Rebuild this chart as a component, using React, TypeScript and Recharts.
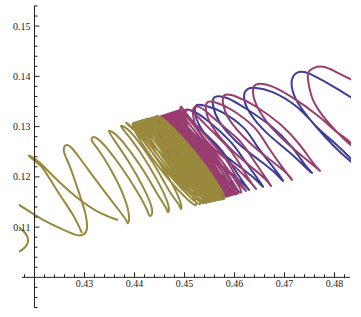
import React from 'react'
import { LineChart, Line, XAxis, YAxis, ReferenceLine } from 'recharts'

type Pt = [number, number]

// three trajectories, points, in plot order
const bluePath: Pt[] = [
  [0.4915, 0.1305], [0.4835, 0.1357], [0.4785, 0.1387], [0.4751, 0.1405], [0.4731, 0.1409],
  [0.4717, 0.1399], [0.4715, 0.1377], [0.4727, 0.1347], [0.4757, 0.1307], [0.4797, 0.1263],
  [0.4833, 0.123], [0.4847, 0.122], [0.4831, 0.1238], [0.4803, 0.1265], [0.4765, 0.1299],
  [0.4725, 0.1339], [0.4675, 0.1369], [0.4643, 0.1377], [0.4627, 0.1375], [0.4619, 0.1359],
  [0.4631, 0.1327], [0.4665, 0.1287], [0.4711, 0.1248], [0.4743, 0.1218], [0.4755, 0.1208],
  [0.4741, 0.1224], [0.4715, 0.1259], [0.4673, 0.1301], [0.4621, 0.1337], [0.4585, 0.1357],
  [0.4561, 0.1359], [0.4557, 0.1343], [0.4569, 0.1311], [0.4605, 0.1269], [0.4651, 0.1232],
  [0.4681, 0.1208], [0.4697, 0.1192], [0.4683, 0.1212], [0.4645, 0.1261], [0.4619, 0.1297],
  [0.4575, 0.1329], [0.4543, 0.1341], [0.4525, 0.1343], [0.4521, 0.1327], [0.4533, 0.1297],
  [0.4567, 0.1255], [0.4613, 0.1218], [0.4643, 0.1194], [0.4657, 0.118], [0.4645, 0.1198],
  [0.4615, 0.124], [0.4589, 0.1273], [0.4547, 0.1311], [0.4517, 0.1331], [0.4501, 0.1333],
  [0.4497, 0.1319], [0.4507, 0.1289], [0.4541, 0.125], [0.4585, 0.1214], [0.4615, 0.1188],
  [0.4629, 0.1174], [0.4617, 0.119], [0.4589, 0.1232], [0.4565, 0.1263], [0.4525, 0.1301],
  [0.4501, 0.1323], [0.4487, 0.1327], [0.4483, 0.1313], [0.4493, 0.1285], [0.4525, 0.1246],
  [0.4567, 0.121], [0.4597, 0.1182], [0.4609, 0.117], [0.4597, 0.1186], [0.4571, 0.1226],
  [0.4547, 0.1257], [0.4509, 0.1295], [0.4489, 0.1317], [0.4475, 0.1323], [0.4471, 0.1309],
  [0.4481, 0.1281], [0.4513, 0.1242], [0.4555, 0.1204], [0.4585, 0.1178], [0.4597, 0.1166],
  [0.4585, 0.1182], [0.4559, 0.1222], [0.4535, 0.1254], [0.4499, 0.1291], [0.4479, 0.1313],
  [0.4467, 0.1319], [0.4463, 0.1305], [0.4473, 0.1277], [0.4505, 0.1238], [0.4547, 0.12],
  [0.4577, 0.1174], [0.4589, 0.1162],
]

const purplePath: Pt[] = [
  [0.4921, 0.1353], [0.4835, 0.1393], [0.4799, 0.1411], [0.4777, 0.1419], [0.4759, 0.1417],
  [0.4747, 0.1405], [0.4749, 0.1381], [0.4757, 0.1353], [0.4777, 0.1321], [0.4809, 0.1285],
  [0.4833, 0.1263], [0.4845, 0.1255], [0.4829, 0.1271], [0.4805, 0.1289], [0.4765, 0.1323],
  [0.4717, 0.1357], [0.4677, 0.1379], [0.4647, 0.1385], [0.4637, 0.1373], [0.4643, 0.1345],
  [0.4665, 0.1309], [0.4699, 0.1273], [0.4737, 0.124], [0.4759, 0.1222], [0.4771, 0.1212],
  [0.4757, 0.1228], [0.4731, 0.1263], [0.4691, 0.1305], [0.4641, 0.1341], [0.4605, 0.1359],
  [0.4581, 0.1363], [0.4577, 0.1347], [0.4589, 0.1315], [0.4625, 0.1273], [0.4671, 0.1234],
  [0.4701, 0.121], [0.4715, 0.1194], [0.4701, 0.1212], [0.4665, 0.1263], [0.4639, 0.1299],
  [0.4595, 0.1333], [0.4565, 0.1347], [0.4547, 0.1349], [0.4543, 0.1333], [0.4555, 0.1301],
  [0.4589, 0.1259], [0.4633, 0.122], [0.4661, 0.1196], [0.4673, 0.1182], [0.4661, 0.12],
  [0.4631, 0.1244], [0.4607, 0.1275], [0.4565, 0.1311], [0.4537, 0.1335], [0.4521, 0.1339],
  [0.4517, 0.1325], [0.4527, 0.1293], [0.4561, 0.1254], [0.4603, 0.1218], [0.4631, 0.119],
  [0.4643, 0.1176], [0.4631, 0.1192], [0.4605, 0.1234], [0.4581, 0.1265], [0.4541, 0.1305],
  [0.4517, 0.1329], [0.4505, 0.1333], [0.4501, 0.1319], [0.4511, 0.1289], [0.4543, 0.125],
  [0.4585, 0.1212], [0.4611, 0.1184], [0.4623, 0.1172], [0.4611, 0.1188], [0.4587, 0.1228],
  [0.4563, 0.1259], [0.4523, 0.1303], [0.4503, 0.1327], [0.4493, 0.1333],
  // dense band
  [0.4541, 0.1241], [0.4613, 0.1169], [0.4556, 0.1256], [0.4487, 0.1332], [0.4535, 0.1239],
  [0.4607, 0.1167], [0.455, 0.1254], [0.4481, 0.133], [0.4529, 0.1238], [0.4601, 0.1165],
  [0.4544, 0.1252], [0.4475, 0.1328], [0.4523, 0.1236], [0.4595, 0.1164], [0.4538, 0.1251],
  [0.4469, 0.1326], [0.4517, 0.1234], [0.4589, 0.1162], [0.4532, 0.1249], [0.4463, 0.1324],
  [0.4511, 0.1232], [0.4583, 0.1161], [0.4526, 0.1247], [0.4457, 0.1322], [0.4505, 0.123],
  [0.4577, 0.1159], [0.452, 0.1245], [0.4451, 0.132], [0.4499, 0.1229], [0.4571, 0.1157],
  [0.4514, 0.1244], [0.4445, 0.1318], [0.4493, 0.1227], [0.4565, 0.1156], [0.4508, 0.1242],
  [0.4439, 0.1316], [0.4487, 0.1225], [0.4559, 0.1154], [0.4502, 0.124], [0.4433, 0.1314],
  [0.4481, 0.1223], [0.4553, 0.1153], [0.4501, 0.124], [0.4436, 0.1315], [0.4484, 0.1224],
  [0.4556, 0.1153], [0.4505, 0.1241], [0.4442, 0.1317], [0.449, 0.1226], [0.4562, 0.1155],
  [0.4511, 0.1243], [0.4448, 0.1319], [0.4496, 0.1228], [0.4568, 0.1157], [0.4517, 0.1245],
  [0.4454, 0.1321], [0.4502, 0.123], [0.4574, 0.1158], [0.4523, 0.1246], [0.446, 0.1323],
  [0.4508, 0.1231], [0.458, 0.116], [0.4529, 0.1248], [0.4466, 0.1325], [0.4514, 0.1233],
  [0.4586, 0.1161], [0.4535, 0.125], [0.4472, 0.1327], [0.452, 0.1235], [0.4592, 0.1163],
  [0.4541, 0.1252], [0.4478, 0.1329], [0.4526, 0.1237], [0.4598, 0.1165], [0.4547, 0.1254],
  [0.4484, 0.1331], [0.4532, 0.1238], [0.4604, 0.1166], [0.4553, 0.1255], [0.449, 0.1333],
  [0.4538, 0.124], [0.461, 0.1168],
]

const oliveArc: Pt[] = [
  [0.4155, 0.111], [0.4171, 0.1098], [0.4183, 0.1086], [0.4187, 0.1072], [0.4181, 0.106],
  [0.4167, 0.105], [0.4151, 0.1044],
]

const oliveTip: Pt[] = [
  [0.4367, 0.1114], [0.4321, 0.1134], [0.4267, 0.1174], [0.4221, 0.1218], [0.4201, 0.1236],
  [0.4189, 0.1242], [0.4203, 0.123], [0.4219, 0.1214], [0.4247, 0.117], [0.4277, 0.1124],
  [0.4295, 0.1088],
]

const olivePath: Pt[] = [
  [0.4135, 0.116], [0.4169, 0.1144], [0.4211, 0.1118], [0.4255, 0.1096], [0.4285, 0.1084],
  [0.4299, 0.1086], [0.4305, 0.1098], [0.4301, 0.113], [0.4287, 0.1174], [0.4271, 0.122],
  [0.4259, 0.125], [0.4263, 0.1263], [0.4273, 0.1259], [0.4293, 0.1234], [0.4333, 0.118],
  [0.4367, 0.1136], [0.4383, 0.1114], [0.4387, 0.1108], [0.4389, 0.1122], [0.4379, 0.116],
  [0.4355, 0.121], [0.4329, 0.1252], [0.4315, 0.1271], [0.4317, 0.1279], [0.4327, 0.1275],
  [0.4343, 0.1259], [0.4373, 0.122], [0.4407, 0.1168], [0.4425, 0.1134], [0.4431, 0.1122],
  [0.4435, 0.1136], [0.4417, 0.118], [0.4387, 0.1232], [0.4361, 0.1271], [0.4349, 0.1291],
  [0.4359, 0.1287], [0.4377, 0.1269], [0.4413, 0.122], [0.4447, 0.1164], [0.4463, 0.1138],
  [0.4467, 0.113], [0.4467, 0.1146], [0.4445, 0.1194], [0.4411, 0.125], [0.4385, 0.1285],
  [0.4373, 0.1301], [0.4383, 0.1297], [0.4401, 0.1279], [0.4437, 0.1228], [0.4471, 0.117],
  [0.4489, 0.1144], [0.4493, 0.1136], [0.4491, 0.1152], [0.4467, 0.12], [0.4431, 0.1255],
  [0.4401, 0.1291], [0.4387, 0.1305],
  // dense band
  [0.4465, 0.1233], [0.4523, 0.1144], [0.445, 0.1218], [0.4397, 0.1307], [0.4474, 0.1235],
  [0.4531, 0.1146], [0.4457, 0.122], [0.4403, 0.1309], [0.448, 0.1237], [0.4537, 0.1148],
  [0.4463, 0.1222], [0.4409, 0.1311], [0.4486, 0.1238], [0.4543, 0.1148], [0.4469, 0.1223],
  [0.4415, 0.1313], [0.4492, 0.124], [0.4549, 0.115], [0.4475, 0.1224], [0.4421, 0.1314],
  [0.4498, 0.1241], [0.4555, 0.1151], [0.4481, 0.1226], [0.4427, 0.1316], [0.4504, 0.1242],
  [0.4561, 0.1152], [0.4487, 0.1227], [0.4433, 0.1317], [0.451, 0.1244], [0.4567, 0.1154],
  [0.4493, 0.1229], [0.4439, 0.1319], [0.4516, 0.1245], [0.4573, 0.1155], [0.4499, 0.123],
  [0.4445, 0.1321], [0.4522, 0.1247], [0.4579, 0.1156], [0.45, 0.123], [0.4441, 0.132],
  [0.4518, 0.1246], [0.4575, 0.1155], [0.4495, 0.1229], [0.4435, 0.1318], [0.4512, 0.1244],
  [0.4569, 0.1154], [0.4489, 0.1227], [0.4429, 0.1316], [0.4506, 0.1243], [0.4563, 0.1153],
  [0.4483, 0.1226], [0.4423, 0.1315], [0.45, 0.1242], [0.4557, 0.1152], [0.4477, 0.1225],
  [0.4417, 0.1313], [0.4494, 0.124], [0.4551, 0.115], [0.4471, 0.1223], [0.4411, 0.1311],
  [0.4488, 0.1238], [0.4545, 0.1149], [0.4465, 0.1221], [0.4405, 0.1309], [0.4482, 0.1237],
  [0.4539, 0.1148], [0.4459, 0.122], [0.4399, 0.1308], [0.4476, 0.1235], [0.4533, 0.1146],
]

const xMajorTicks = [0.43, 0.44, 0.45, 0.46, 0.47, 0.48]
const xMinorTicks = [
  0.418, 0.422, 0.424, 0.426, 0.428, 0.432, 0.434, 0.436, 0.438, 0.442, 0.444, 0.446, 0.448,
  0.452, 0.454, 0.456, 0.458, 0.462, 0.464, 0.466, 0.468, 0.472, 0.474, 0.476, 0.478, 0.482,
]
const yMajorTicks = [0.11, 0.12, 0.13, 0.14, 0.15]
const yMinorTicks = [
  0.094, 0.096, 0.098, 0.102, 0.104, 0.106, 0.108, 0.112, 0.114, 0.116, 0.118, 0.122, 0.124,
  0.126, 0.128, 0.132, 0.134, 0.136, 0.138, 0.142, 0.144, 0.146, 0.148, 0.152, 0.154,
]

const X0 = 0.42 // where the axes cross
const Y0 = 0.1

const axisColor = '#222'
const labelFont = { fill: '#222', fontSize: 10, fontFamily: '"Liberation Serif", "DejaVu Serif", serif' }

const rows = (pts: Pt[]) => pts.map(([x, y]) => ({ x, y }))

const series = [
  { name: 'a', pts: bluePath, color: '#3d3d99' },
  { name: 'b', pts: purplePath, color: '#993d71' },
  { name: 'c1', pts: oliveArc, color: '#99893d' },
  { name: 'c2', pts: oliveTip, color: '#99893d' },
  { name: 'c3', pts: olivePath, color: '#99893d' },
]

export default function App() {
  return (
    <div style={{ position: 'absolute', left: 0, top: 0, width: 361, height: 317, background: '#fff' }}>
      <LineChart width={361} height={317} margin={{ top: 6, right: 10, bottom: 9, left: 19 }}>
        <XAxis type="number" dataKey="x" domain={[0.4169, 0.4833]} allowDataOverflow hide />
        <YAxis type="number" dataKey="y" domain={[0.0939, 0.154]} allowDataOverflow hide />

        {series.map(s => (
          <Line
            key={s.name}
            data={rows(s.pts)}
            dataKey="y"
            type="natural"
            stroke={s.color}
            strokeWidth={2}
            dot={false}
            activeDot={false}
            isAnimationActive={false}
          />
        ))}

        {/* axes cross at (0.42, 0.10) */}
        <ReferenceLine
          segment={[{ x: 0.4175, y: Y0 }, { x: 0.4831, y: Y0 }]}
          stroke={axisColor}
          ifOverflow="visible"
        />
        <ReferenceLine
          segment={[{ x: X0, y: 0.0939 }, { x: X0, y: 0.1541 }]}
          stroke={axisColor}
          ifOverflow="visible"
        />

        {xMinorTicks.map(t => (
          <ReferenceLine
            key={'xm' + t}
            segment={[{ x: t, y: Y0 }, { x: t, y: Y0 + 0.0006 }]}
            stroke={axisColor}
            ifOverflow="visible"
          />
        ))}
        {xMajorTicks.map(t => (
          <ReferenceLine
            key={'xM' + t}
            segment={[{ x: t, y: Y0 }, { x: t, y: Y0 + 0.001 }]}
            stroke={axisColor}
            ifOverflow="visible"
            label={{ value: t.toFixed(2), position: 'bottom', offset: 3, ...labelFont }}
          />
        ))}
        {yMinorTicks.map(t => (
          <ReferenceLine
            key={'ym' + t}
            segment={[{ x: X0, y: t }, { x: X0 + 0.0006, y: t }]}
            stroke={axisColor}
            ifOverflow="visible"
          />
        ))}
        {yMajorTicks.map(t => (
          <ReferenceLine
            key={'yM' + t}
            segment={[{ x: X0, y: t }, { x: X0 + 0.001, y: t }]}
            stroke={axisColor}
            ifOverflow="visible"
            label={{ value: t.toFixed(2), position: 'left', offset: 4, ...labelFont }}
          />
        ))}
      </LineChart>
    </div>
  )
}
